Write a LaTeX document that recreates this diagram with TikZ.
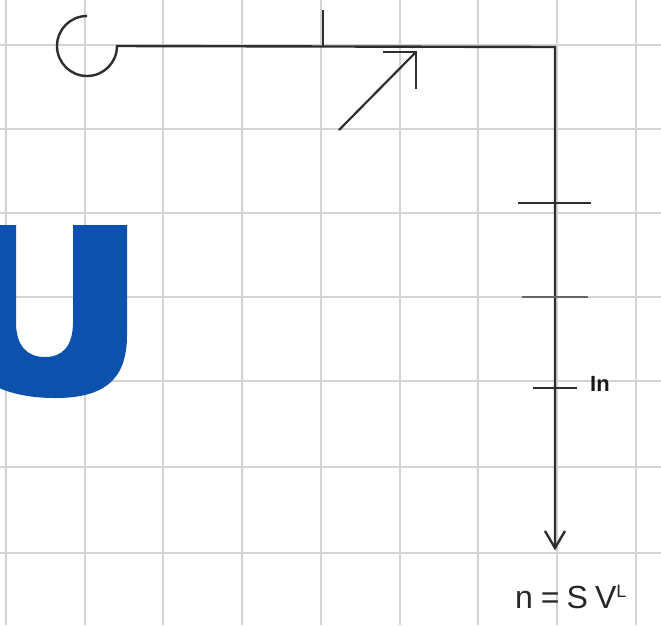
\documentclass[tikz,border=0pt]{standalone}
\usepackage{fontspec}
\setmainfont{Liberation Sans}
\begin{document}
\begin{tikzpicture}[x=1pt,y=-1pt,
  gridline/.style={draw=black!17,line width=1.4pt},
  wire/.style={draw=black!82,line width=2.4pt,line cap=butt},
  tickmark/.style={draw=black!82,line width=2.2pt},
  lbl/.style={font=\fontsize{26}{28}\selectfont,text=black!85,inner sep=0pt}]
\useasboundingbox (0,0) rectangle (661,625);
\fill[white] (0,0) rectangle (661,625);
% grid
\foreach \gx in {6,85,163,242,321,400,478,557,636}
  \draw[gridline] (\gx,0) -- (\gx,625);
\foreach \gy in {45,129,213,297,381,467,553}
  \draw[gridline] (0,\gy) -- (661,\gy);
% blue U
\fill[fill={rgb,255:red,12;green,82;blue,172}]
  (127,225) -- (127,335) .. controls (127,380) and (104,398) .. (55,398)
  .. controls (5,398) and (-37,380) .. (-37,335) -- (-37,225) -- (16,225)
  -- (16,322) .. controls (16,347) and (28,357) .. (45,357)
  .. controls (62,357) and (73,347) .. (73,322) -- (73,225) -- cycle;
% main wire
\coordinate (start) at (87,16);
\coordinate (corner) at (555,47);
\coordinate (endpt) at (555,548);
\draw[wire] (start) arc[start angle=270,end angle=0,radius=30] -- (corner) -- (endpt);
% arrowhead at bottom
\draw[wire,line join=miter] (545,531) -- (endpt) -- (565,531);
% top tick
\coordinate (ttop) at (323,10);
\coordinate (tbase) at (323,47);
\draw[tickmark] (ttop) -- (tbase);
% diagonal arrow
\coordinate (dstart) at (339,130);
\coordinate (dtip) at (416,52);
\draw[wire,line width=2.2pt] (dstart) -- (dtip);
\draw[wire,line width=2.2pt,line join=miter] (383,52) -- (dtip) -- (416,89);
% ticks on vertical line
\coordinate (t1a) at (518,203); \coordinate (t1b) at (591,203);
\coordinate (t2a) at (522,297); \coordinate (t2b) at (588,297);
\coordinate (t3a) at (533,388); \coordinate (t3b) at (577,388);
\draw[tickmark] (t1a) -- (t1b);
\draw[tickmark,draw=black!60] (t2a) -- (t2b);
\draw[tickmark] (t3a) -- (t3b);
% labels
\node[lbl,font=\fontsize{22}{24}\selectfont\bfseries,text=black!90,anchor=west] (tlabel) at (590,384) {In};
\node[lbl,font=\fontsize{32}{34}\selectfont,anchor=west] (flabel) at (515,597) {n\hspace{8pt}=\hspace{7pt}S\hspace{7pt}V\raisebox{0.6ex}{\fontsize{18}{18}\selectfont L}};
\end{tikzpicture}
\end{document}
